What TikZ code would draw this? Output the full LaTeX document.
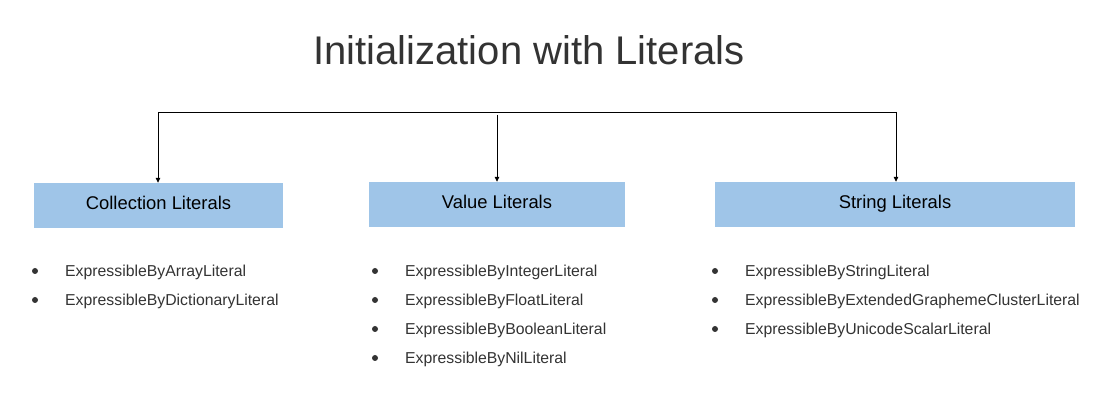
\documentclass[tikz,border=0pt]{standalone}
\usepackage{fontspec}
\setmainfont{Liberation Sans}
\usetikzlibrary{arrows.meta}
\definecolor{boxblue}{HTML}{9FC5E8}
\definecolor{txt}{HTML}{333333}
\begin{document}
\begin{tikzpicture}[x=1pt,y=-1pt,
  cat/.style={fill=boxblue,draw=none,minimum height=45pt,inner sep=0pt,text height=13pt,text depth=4pt,font=\fontsize{18.4}{21}\selectfont,text=black},
  item/.style={anchor=west,inner sep=0pt,font=\fontsize{15.8}{18}\selectfont,text=txt},
  bul/.style={circle,fill=txt,inner sep=0pt,minimum size=6pt},
  conn/.style={draw=black,line width=0.8pt,-{Triangle[length=5pt,width=4.5pt]}}]
\useasboundingbox (0,0) rectangle (1112,411);
\node[font=\fontsize{40}{46}\selectfont,text=txt] (title) at (529,50) {Initialization with Literals};
\node[cat,minimum width=249pt] (c1) at (158.5,205.5) {Collection Literals};
\node[cat,minimum width=256pt] (c2) at (497,204.5) {Value Literals};
\node[cat,minimum width=360pt] (c3) at (895,204.5) {String Literals};
\coordinate (t1) at (158,112);
\coordinate (t2) at (497,115);
\coordinate (t3) at (896,112);
\draw[line width=0.8pt] (t1) -- (t3);
\draw[conn] (t1) -- (c1.north -| t1);
\draw[conn] (t2) -- (c2.north -| t2);
\draw[conn] (t3) -- (c3.north -| t3);
% column 1
\node[bul] (b11) at (35,271) {}; \node[item] (i11) at (65,272) {ExpressibleByArrayLiteral};
\node[bul] (b12) at (35,300) {}; \node[item] (i12) at (65,301) {ExpressibleByDictionaryLiteral};
% column 2
\node[bul] (b21) at (375,271) {}; \node[item] (i21) at (405,272) {ExpressibleByIntegerLiteral};
\node[bul] (b22) at (375,300) {}; \node[item] (i22) at (405,301) {ExpressibleByFloatLiteral};
\node[bul] (b23) at (375,329) {}; \node[item] (i23) at (405,330) {ExpressibleByBooleanLiteral};
\node[bul] (b24) at (375,358) {}; \node[item] (i24) at (405,359) {ExpressibleByNilLiteral};
% column 3
\node[bul] (b31) at (715,271) {}; \node[item] (i31) at (745,272) {ExpressibleByStringLiteral};
\node[bul] (b32) at (715,300) {}; \node[item] (i32) at (745,301) {ExpressibleByExtendedGraphemeClusterLiteral};
\node[bul] (b33) at (715,329) {}; \node[item] (i33) at (745,330) {ExpressibleByUnicodeScalarLiteral};
\end{tikzpicture}
\end{document}
